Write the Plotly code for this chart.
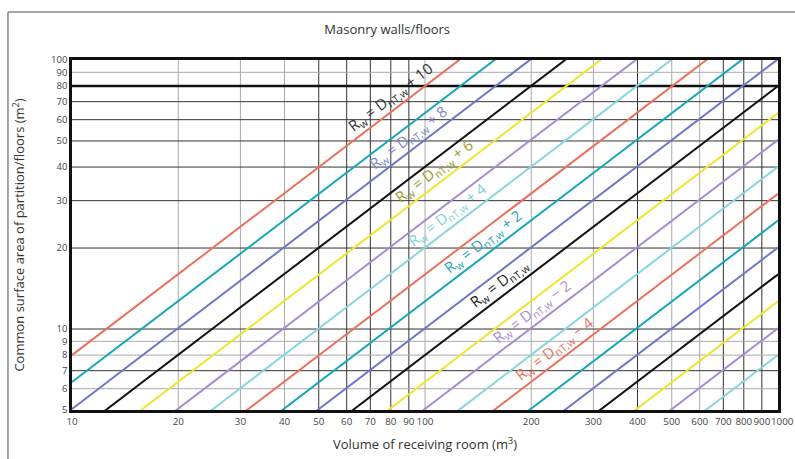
import numpy as np
import plotly.graph_objects as go

# ---- data ----
offsets_db = [10, 9, 8, 7, 6, 5, 4, 3, 2, 1, 0, -1, -2, -3, -4, -5, -6, -7, -8, -9, -10]
ratio_at_0db = 0.08          # S/V ratio of the Rw = DnT,w line
volume_range = [10, 1000]
x_ticks = [10, 20, 30, 40, 50, 60, 70, 80, 90, 100, 200, 300, 400, 500, 600, 700, 800, 900, 1000]
y_ticks = [5, 6, 7, 8, 9, 10, 20, 30, 40, 50, 60, 70, 80, 90, 100]
labelled_offsets = [10, 8, 6, 4, 2, 0, -2, -4]
label_volumes = [79.6, 89.6, 106.6, 116, 146, 163, 201, 233]

x_dark = [50, 60, 70, 80, 90, 400, 700, 800, 900]
y_dark = [7, 10, 20, 30, 40, 50, 60, 70]
y_thick = [80]

palette = ["#e8725e", "#17a7b8", "#6e78c4", "#111111", "#efe52e", "#a88ccf", "#86d6dc"]
label_colors = {10: "#333333", 8: "#7b84c9", 6: "#9a9a2a", 4: "#7fd0d6",
                2: "#1ea5b5", 0: "#222222", -2: "#a88ccf", -4: "#e8725e"}

PLOT_W, PLOT_H = 706, 350
FONT = "Open Sans, Lato, sans-serif"

fig = go.Figure()

# gridlines
for v in x_ticks[1:-1]:
    dark = v in x_dark
    fig.add_shape(type="line", xref="x", yref="paper", x0=v, x1=v, y0=0, y1=1,
                  line=dict(color="#333333" if dark else "#aaaaaa", width=1), layer="below")
for v in y_ticks[1:-1]:
    if v in y_thick:
        col, w = "#111111", 2.5
    elif v in y_dark:
        col, w = "#333333", 1
    else:
        col, w = "#aaaaaa", 1
    fig.add_shape(type="line", xref="paper", yref="y", x0=0, x1=1, y0=v, y1=v,
                  line=dict(color=col, width=w), layer="below")

# diagonal lines
for i, k in enumerate(offsets_db):
    r = ratio_at_0db * 10 ** (k / 10)
    xs = np.array(volume_range, dtype=float)
    fig.add_trace(go.Scatter(x=xs, y=r * xs, mode="lines",
                             line=dict(color=palette[i % 7], width=2),
                             hoverinfo="skip", showlegend=False))

# labels, rotated to follow the slope-1 lines on screen
px_per_dec_x = PLOT_W / 2
px_per_dec_y = PLOT_H / np.log10(100 / 5)
angle = -np.degrees(np.arctan(px_per_dec_y / px_per_dec_x))
for k, v in zip(labelled_offsets, label_volumes):
    r = ratio_at_0db * 10 ** (k / 10)
    if k > 0:
        txt = f"R<sub>w</sub> = D<sub>nT,w</sub> + {k}"
    elif k == 0:
        txt = "R<sub>w</sub> = D<sub>nT,w</sub>"
    else:
        txt = f"R<sub>w</sub> = D<sub>nT,w</sub> − {abs(k)}"
    fig.add_annotation(x=np.log10(v), y=np.log10(r * v), text=txt, showarrow=False,
                       textangle=angle, yshift=15,
                       font=dict(family=FONT, size=15, color=label_colors[k]))

# outer frame lines (page border)
fig.add_shape(type="line", xref="paper", yref="paper", x0=-0.0907, x1=1.03, y0=1.137, y1=1.137,
              line=dict(color="#888888", width=1.5))
fig.add_shape(type="line", xref="paper", yref="paper", x0=-0.0907, x1=-0.0907, y0=1.137, y1=-0.15,
              line=dict(color="#888888", width=1.5))

x_font = dict(family=FONT, size=9.8, color="#444444")
y_font = dict(family=FONT, size=9.5, color="#444444")

# last x tick label sits just right of the right axis edge (as in the reference)
fig.add_annotation(x=np.log10(x_ticks[-1]), xref="x", y=0, yref="paper", text=str(x_ticks[-1]),
                   showarrow=False, xanchor="left", yanchor="top", xshift=-9, yshift=-3,
                   font=x_font)

fig.update_xaxes(type="log", range=[1, 3], tickvals=x_ticks[:-1],
                 ticktext=[str(t) for t in x_ticks[:-1]],
                 tickangle=0, automargin=False,
                 showgrid=False, zeroline=False, showline=True, linecolor="#111111", linewidth=2.5,
                 mirror=True, ticks="", tickfont=x_font,
                 title=dict(text="Volume of receiving room (m<sup>3</sup>)",
                            font=dict(family=FONT, size=13, color="#333333"),
                            standoff=14))
fig.update_yaxes(type="log", range=[np.log10(5), 2], tickvals=y_ticks, ticktext=[str(t) for t in y_ticks],
                 automargin=False,
                 showgrid=False, zeroline=False, showline=True, linecolor="#111111", linewidth=2.5,
                 mirror=True, ticks="", tickfont=y_font,
                 title=dict(text="Common surface area of partition/floors (m<sup>2</sup>)",
                            font=dict(family=FONT, size=13, color="#333333"),
                            standoff=24))
fig.update_layout(
    width=795, height=459,
    margin=dict(l=72, r=17, t=60, b=49),
    paper_bgcolor="white", plot_bgcolor="white",
    title=dict(text="Masonry walls/floors", x=0.487, xanchor="center", y=0.935, yanchor="middle",
               font=dict(family=FONT, size=13, color="#333333")),
)
fig.write_html("out.html")
